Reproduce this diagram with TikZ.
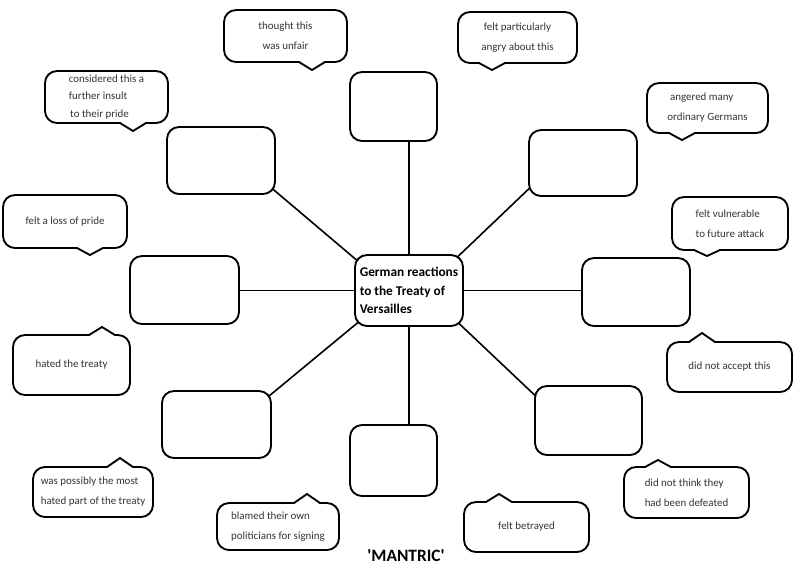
\documentclass[tikz,border=0pt]{standalone}
\usepackage{fontspec}
\newfontfamily\calfont{Carlito}
\usetikzlibrary{calc,backgrounds}
\newcommand\mkrect[6]{\node[rbox,#6,minimum width={(#4-#2)*0.75pt},minimum height={(#5-#3)*0.75pt}] (#1) at ({(#2+#4)/2},{(#3+#5)/2}) {};}
\newcommand\mkcall[7]{\node[calloutbox,#6,minimum width={(#4-#2)*0.75pt},minimum height={(#5-#3)*0.75pt}] (#1) at ({(#2+#4)/2},{(#3+#5)/2}) {#7};}
\newcommand\mkptr[4]{%
  \fill[white] ($(#1.#2)+(#3-12,-2.5)$) rectangle ($(#1.#2)+(#3+12,2.5)$);
  \draw[cline] ($(#1.#2)+(#3-13,0)$) -- ($(#1.#2)+(#3,#4)$) -- ($(#1.#2)+(#3+13,0)$);}
\begin{document}
\begin{tikzpicture}[x=0.75pt,y=-0.75pt,
  rbox/.style={draw,line width=1.4pt,rounded corners=9pt,fill=white,inner sep=0pt,outer sep=0pt},
  hub/.style={rbox,font=\calfont\bfseries\fontsize{10}{14}\selectfont,align=left},
  calloutbox/.style={rbox,font=\calfont\fontsize{8.2}{15}\selectfont,text=black!80,align=center},
  cline/.style={line width=1.4pt,line join=round,line cap=round},
  linkline/.style={line width=1.2pt}]
\useasboundingbox (0,0) rectangle (800,583);

% hub
\node[hub,minimum width=81pt,minimum height=53.25pt] (C) at (409,290.5) {German reactions\\to the Treaty of\\Versailles};

% empty boxes
\mkrect{T}{350}{72}{437}{141}{}
\mkrect{UR}{529}{130}{637}{196}{}
\mkrect{R}{582}{258}{690}{326}{}
\mkrect{LR}{535}{386}{642}{455}{}
\mkrect{B}{350}{425}{437}{496}{}
\mkrect{LL}{162}{391}{271}{458}{}
\mkrect{L}{130}{256}{239}{324}{}
\mkrect{UL}{167}{127}{275}{194}{}

% connectors
\begin{pgfonlayer}{background}
\draw[linkline] (C.center) -- (C.center |- T.center);
\draw[linkline] (C.center) -- (C.center |- B.center);
\draw[linkline] (C.center) -- (C.center -| L.center);
\draw[linkline] (C.center) -- (C.center -| R.center);
\draw[linkline] ($(UL.south east)+(-7,-9)$) -- ($(C.north west)+(11,13)$);
\draw[linkline] ($(UR.south west)+(7,-14)$) -- ($(C.north east)+(-15,11)$);
\draw[linkline] ($(LL.north east)+(-8,10)$) -- ($(C.south west)+(12,-11)$);
\draw[linkline] ($(LR.north west)+(8,17)$) -- ($(C.south east)+(-14,-12)$);
\end{pgfonlayer}

% callouts
\mkcall{c1}{224}{10}{347}{62}{}{thought this\\was unfair}
\mkptr{c1}{south}{26.5}{8}
\mkcall{c2}{458}{12}{577}{63}{}{felt particularly\\angry about this}
\mkptr{c2}{south}{-25.5}{7}
\mkcall{c3}{45}{71}{168}{123}{align=left,font=\calfont\fontsize{8.2}{13}\selectfont}{considered this a\\further insult\\\hspace{1pt}to their pride}
\mkptr{c3}{south}{26.5}{8}
\mkcall{c4}{647}{83}{768}{133}{align=left}{\hspace{2pt}angered many\\ordinary Germans}
\mkptr{c4}{south}{-25.5}{7}
\mkcall{c5}{3}{195}{127}{248}{}{felt a loss of pride}
\mkptr{c5}{south}{25}{7}
\mkcall{c6}{672}{197}{788}{250}{align=left}{felt vulnerable\\to future attack}
\mkptr{c6}{south}{-23}{6}
\mkcall{c7}{13}{335}{130}{395}{}{hated the treaty}
\mkptr{c7}{north}{30.5}{-8}
\mkcall{c8}{667}{342}{792}{392}{}{did not accept this}
\mkptr{c8}{north}{-27.5}{-9}
\mkcall{c9}{33}{467}{153}{517}{align=left}{was possibly the most\\hated part of the treaty}
\mkptr{c9}{north}{27}{-9}
\mkcall{c10}{217}{503}{339}{550}{align=left}{blamed their own\\politicians for signing}
\mkptr{c10}{north}{29}{-9}
\mkcall{c11}{464}{502}{589}{552}{}{felt betrayed}
\mkptr{c11}{north}{-27.5}{-8}
\mkcall{c12}{624}{467}{749}{518}{align=left}{did not think they\\had been defeated}
\mkptr{c12}{north}{-28.5}{-7}

% title
\node[font=\calfont\bfseries\fontsize{13}{15}\selectfont] (M) at (406,556) {'MANTRIC'};
\end{tikzpicture}
\end{document}
